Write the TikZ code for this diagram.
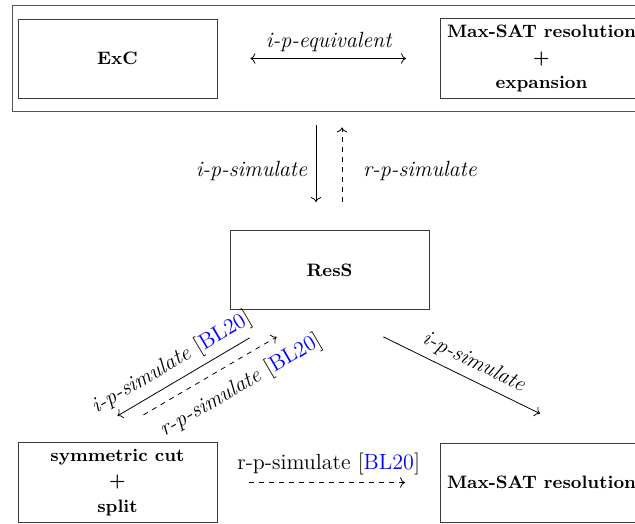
\documentclass[tikz,border=0pt]{standalone}
\usepackage{xcolor}
\usepackage{tikz}
\usetikzlibrary{arrows.meta, positioning, calc}
\definecolor{citeblue}{HTML}{0000FF}
\definecolor{boxgray}{HTML}{3A3A3A}
\definecolor{framegray}{HTML}{555555}
\tikzstyle{arr}=[->]
\tikzstyle{darr}=[->, dash pattern=on 2.5pt off 2.5pt]
\tikzstyle{sysbox}=[draw=boxgray, minimum width=99.5pt, minimum height=39.5pt, align=center, font=\fontsize{9}{12.8}\selectfont\bfseries]
\tikzstyle{lab}=[font=\fontsize{11}{13}\selectfont\itshape]
\tikzstyle{uplab}=[font=\fontsize{11}{13}\selectfont]
\newcommand{\citebl}{\textup{[\textcolor{citeblue}{BL20}]}}

\begin{document}
\begin{tikzpicture}[x=0.5pt, y=-0.5pt]
  \clip (0,0) rectangle (635,523);
  \node[draw=framegray, minimum width=317.5pt, minimum height=53pt] (frame) at (329.5,58) {};
  \node[sysbox] (exc) at (117.5,58.5) {ExC};
  \node[sysbox] (maxexp) at (541.5,58.5) {Max-SAT resolution\\+\\expansion};
  \node[sysbox] (ress) at (329.5,270) {ResS};
  \node[sysbox] (symcut) at (117.5,482.5) {symmetric cut\\+\\split};
  \node[sysbox] (maxsat) at (541.5,482.5) {Max-SAT resolution};

  \draw[<->, shorten <=16.5pt, shorten >=17pt] (exc.east) -- node[lab, above] {i-p-equivalent} (maxexp.west);

  \draw[arr, shorten <=7pt, shorten >=14pt] ($(frame.south)+(-13.5,0)$) -- node[lab, left=1pt] {i-p-simulate} ($(ress.north)+(-13.5,0)$);
  \draw[darr, shorten <=14pt, shorten >=8pt] ($(ress.north)+(12.5,0)$) -- node[lab, right=7pt] {r-p-simulate} ($(frame.south)+(12.5,0)$);

  \draw[arr] ($(ress.south west)+(20,28)$) -- node[lab, sloped, above, pos=0.52] {i-p-simulate \citebl} ($(symcut.north east)+(-100,-26)$);
  \draw[darr] ($(symcut.north east)+(-74,-27)$) -- node[lab, sloped, below=3pt, pos=0.64] {r-p-simulate \citebl} ($(ress.south west)+(47,27)$);
  \draw[arr] ($(ress.south east)+(-46,27)$) -- node[lab, sloped, above, pos=0.53] {i-p-simulate} ($(maxsat.north west)+(100,-29)$);

  \draw[darr, shorten <=16pt, shorten >=17.5pt] (symcut.east) -- node[uplab, above] {r-p-simulate \citebl} (maxsat.west);
\end{tikzpicture}
\end{document}
